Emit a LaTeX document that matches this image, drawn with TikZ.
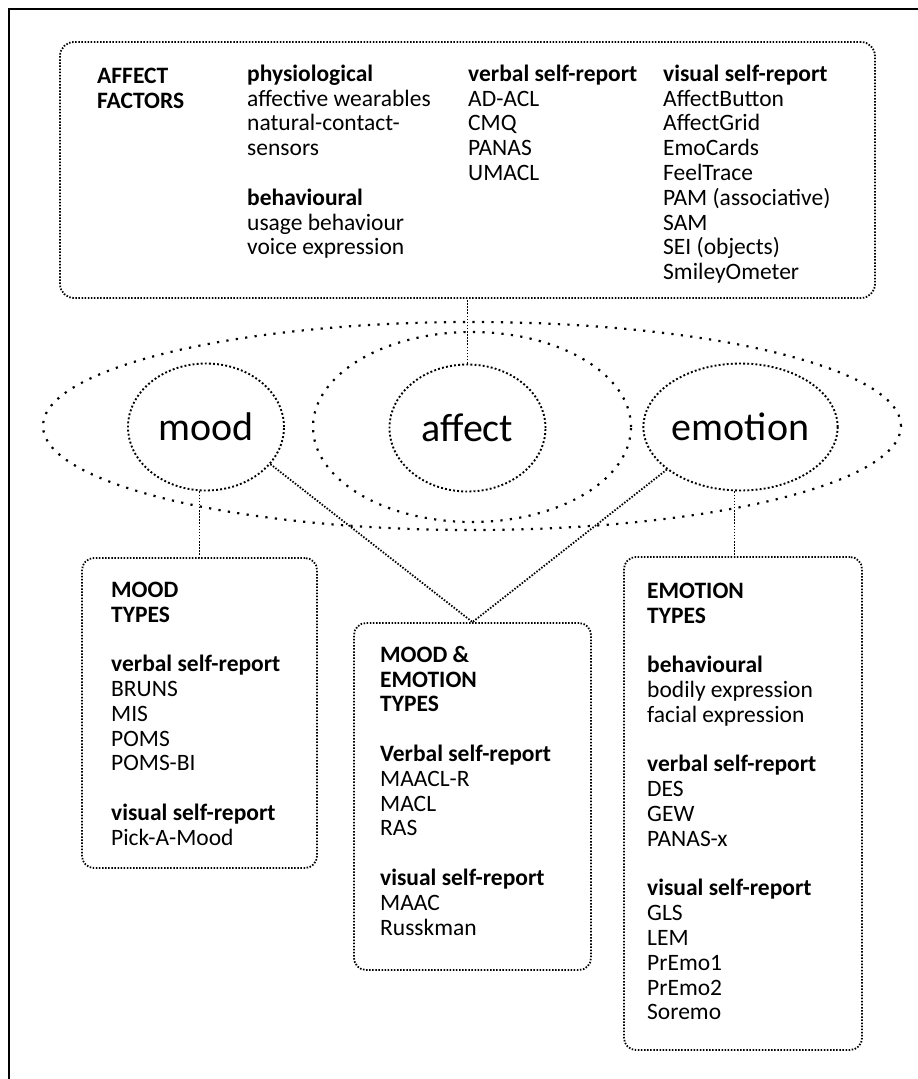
\documentclass[tikz,border=0pt]{standalone}
\usepackage{fontspec}
\setmainfont{Carlito}
\usetikzlibrary{shapes.geometric}

\newcommand\boxfont{\fontsize{23.5}{24.8}\selectfont}
\newcommand\circfont{\fontsize{40}{48}\selectfont}
\newcommand\firstline{\rule{0pt}{19pt}}
\newcommand\gap{\\[24.8pt]}

\tikzset{
  dotbox/.style={draw, line width=1.8pt, dash pattern=on 1.5pt off 1.6pt, rounded corners=14pt, inner sep=0pt},
  dotcirc/.style={ellipse, draw, line width=1.9pt, dash pattern=on 1.9pt off 2.2pt, minimum width=156pt, minimum height=127pt, inner sep=0pt, text height=26pt, text depth=0pt, font=\circfont},
  widedots/.style={line width=2.2pt, dash pattern=on 2.2pt off 7.3pt},
  link/.style={line width=1.8pt, dash pattern=on 1.5pt off 1.6pt},
  txt/.style={anchor=north west, align=left, inner sep=0pt, font=\boxfont},
}

\begin{document}
\begin{tikzpicture}[x=1pt,y=-1pt]
\useasboundingbox (0,0) rectangle (918,1079);

% Frame
\draw[line width=2.5pt] (9,1079) -- (9,9) -- (918,9);

% Boxes
\node[dotbox, minimum width=815pt, minimum height=256pt] (topbox) at (467.5,170) {};
\node[dotbox, minimum width=235pt, minimum height=310pt, rounded corners=12pt] (moodbox) at (199.5,713) {};
\node[dotbox, minimum width=237pt, minimum height=347pt, rounded corners=12pt] (mebox) at (472.5,796.5) {};
\node[dotbox, minimum width=238pt, minimum height=493pt, rounded corners=12pt] (emobox) at (743,803.5) {};

% Ellipses
\draw[widedots] (472,426) ellipse [x radius=429pt, y radius=104pt];
\draw[widedots] (472,427) ellipse [x radius=159pt, y radius=95pt];

% Circles
\node[dotcirc] (mood) at (206,427) {mood};
\node[dotcirc] (affect) at (467.5,428) {affect};
\node[dotcirc] (emotion) at (740.5,427) {emotion};

% Connectors
\draw[link] (affect.north) -- (affect.north |- topbox.south);
\draw[link] (moodbox.north |- mood.south) -- (moodbox.north);
\draw[link] (mood.-30) -- (mebox.north);
\draw[link] (emotion.-150) -- (mebox.north);
\draw[link] ([xshift=-6pt]emotion.south) -- ([xshift=-6pt]emotion.south |- emobox.north);

%% Texts %%
% affect factors
\node[txt] (factors) at (97,64) {\firstline\textbf{AFFECT}\\\textbf{FACTORS}};
\node[txt] (physio) at (247,62) {\firstline\textbf{physiological}\\affective wearables\\natural-contact-\\sensors\gap
  \textbf{behavioural}\\usage behaviour\\voice expression};
\node[txt] (verbal) at (468,62) {\firstline\textbf{verbal self-report}\\AD-ACL\\CMQ\\PANAS\\UMACL};
\node[txt] (visual) at (663,62) {\firstline\textbf{visual self-report}\\AffectButton\\AffectGrid\\EmoCards\\FeelTrace\\
  PAM (associative)\\SAM\\SEI (objects)\\SmileyOmeter};
% mood types
\node[txt] (moodtxt) at (111,578) {\firstline\textbf{MOOD}\\\textbf{TYPES}\gap
  \textbf{verbal self-report}\\BRUNS\\MIS\\POMS\\POMS-BI\gap
  \textbf{visual self-report}\\Pick-A-Mood};
% mood & emotion types
\node[txt] (metxt) at (380,643) {\firstline\textbf{MOOD \&}\\\textbf{EMOTION}\\\textbf{TYPES}\gap
  \textbf{Verbal self-report}\\MAACL-R\\MACL\\RAS\gap
  \textbf{visual self-report}\\MAAC\\Russkman};
% emotion types
\node[txt] (emotxt) at (647,579) {\firstline\textbf{EMOTION}\\\textbf{TYPES}\gap
  \textbf{behavioural}\\bodily expression\\facial expression\gap
  \textbf{verbal self-report}\\DES\\GEW\\PANAS-x\gap
  \textbf{visual self-report}\\GLS\\LEM\\PrEmo1\\PrEmo2\\Soremo};
\end{tikzpicture}
\end{document}
